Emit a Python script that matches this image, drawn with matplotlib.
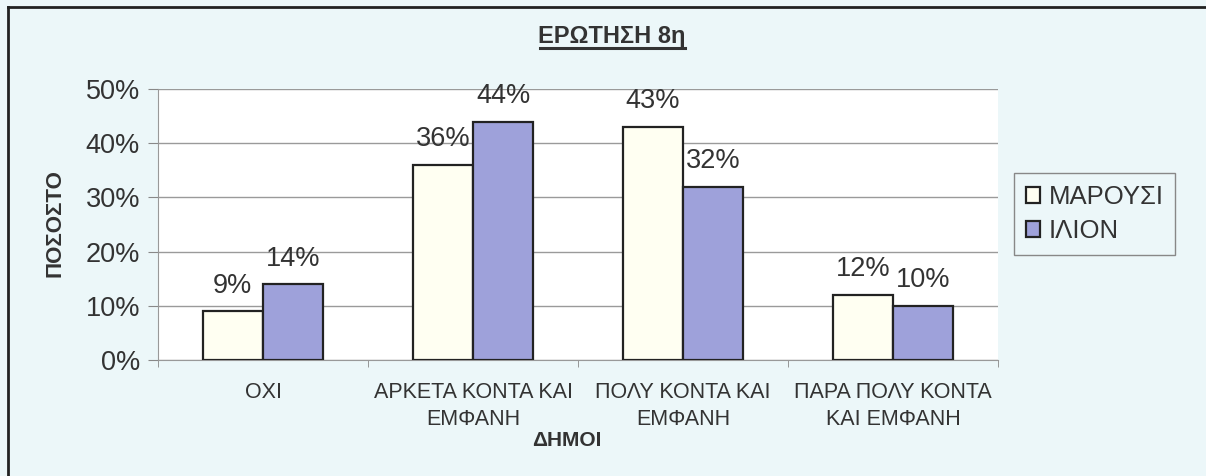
import matplotlib.pyplot as plt
from matplotlib.lines import Line2D
import numpy as np

plt.rcParams['font.family'] = ['Liberation Sans', 'DejaVu Sans']

categories = ["ΟΧΙ", "ΑΡΚΕΤΑ ΚΟΝΤΑ ΚΑΙ\nΕΜΦΑΝΗ", "ΠΟΛΥ ΚΟΝΤΑ ΚΑΙ\nΕΜΦΑΝΗ",
              "ΠΑΡΑ ΠΟΛΥ ΚΟΝΤΑ\nΚΑΙ ΕΜΦΑΝΗ"]
marousi = [9, 36, 43, 12]
ilion = [14, 44, 32, 10]
yticks = [0, 10, 20, 30, 40, 50]

bg = "#ecf7f9"
cream = "#fffff2"
lavender = "#9ea1da"
txt = "#333333"

fig = plt.figure(figsize=(12.06, 4.76), dpi=100, facecolor=bg)
ax = fig.add_axes([158/1206, 116/476, 840/1206, 271/476])
ax.set_facecolor("white")

x = np.arange(len(categories))
w = 0.287
b1 = ax.bar(x - w/2, marousi, w, color=cream, edgecolor="#222222", linewidth=1.6,
            label="ΜΑΡΟΥΣΙ", zorder=3)
b2 = ax.bar(x + w/2, ilion, w, color=lavender, edgecolor="#222222", linewidth=1.6,
            label="ΙΛΙΟΝ", zorder=3)

for bars, vals in ((b1, marousi), (b2, ilion)):
    for r, v in zip(bars, vals):
        ax.annotate(f"{v}%", (r.get_x() + r.get_width()/2, v), xytext=(0, 9),
                    textcoords="offset points", ha="center", va="bottom",
                    fontsize=19.5, color=txt)

ax.set_xlim(-0.5, len(categories) - 0.5)
ax.set_ylim(0, 50)
ax.set_yticks(yticks)
ax.set_yticklabels([f"{t}%" for t in yticks], fontsize=19.5, color=txt)
ax.yaxis.grid(True, color="#9a9a9a", linewidth=1, zorder=0)
ax.tick_params(axis="y", length=7, color="#888888", pad=6)

ax.set_xticks(x)
ax.set_xticklabels(categories, fontsize=15.5, color=txt, linespacing=1.35)
ax.tick_params(axis="x", length=0, pad=16)
ax.set_xticks(np.arange(-0.5, len(categories)), minor=True)
ax.tick_params(axis="x", which="minor", length=5, color="#888888")

for s in ("top", "right"):
    ax.spines[s].set_visible(False)
for s in ("left", "bottom"):
    ax.spines[s].set_color("#999999")

fig.text(55/1206, 1 - 223/476, "ΠΟΣΟΣΤΟ", rotation=90, ha="center", va="center",
         fontsize=16, fontweight="bold", color=txt)
fig.text(567/1206, 1 - 440/476, "ΔΗΜΟΙ", ha="center", va="center",
         fontsize=15, fontweight="bold", color=txt)

fig.text(612/1206, 1 - 43/476, "ΕΡΩΤΗΣΗ 8η", ha="center", va="baseline",
         fontsize=17, fontweight="bold", color=txt)
fig.add_artist(Line2D([540/1206, 685/1206], [1 - 48/476, 1 - 48/476],
                      color=txt, linewidth=2.2))

# frame edges
fig.add_artist(Line2D([8/1206, 8/1206], [0, 1 - 7/476], color="#222222", linewidth=2))
fig.add_artist(Line2D([8/1206, 1], [1 - 7/476, 1 - 7/476], color="#222222", linewidth=2))

leg = fig.legend(handles=[b1, b2], loc="center left",
                 bbox_to_anchor=(1014/1206, 1 - 214/476), fontsize=18.5,
                 frameon=True, fancybox=False, edgecolor="#888888",
                 facecolor=bg, framealpha=1, handlelength=0.55, handleheight=0.55,
                 handletextpad=0.35, labelspacing=0.4, borderpad=0.45,
                 borderaxespad=0)
for t in leg.get_texts():
    t.set_color(txt)

plt.savefig("out.png", dpi=100, facecolor=bg)
